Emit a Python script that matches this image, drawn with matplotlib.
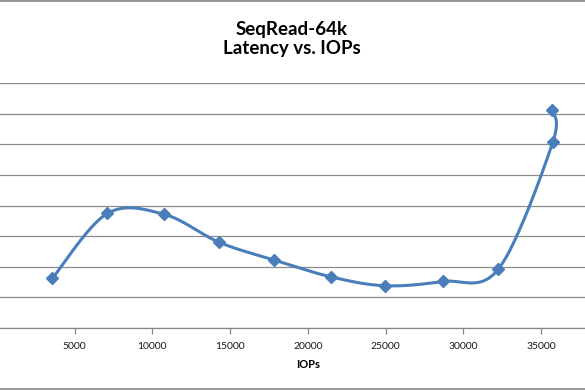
import numpy as np
import matplotlib
matplotlib.use("Agg")
import matplotlib.pyplot as plt
from matplotlib.lines import Line2D

# Data
iops = [3560, 7100, 10770, 14290, 17825, 21490, 24970, 28680, 32260, 35760, 35700]
latency = [1.62, 3.74, 3.71, 2.80, 2.22, 1.67, 1.38, 1.52, 1.92, 6.06, 7.13]
x_ticks = [0, 5000, 10000, 15000, 20000, 25000, 30000, 35000]
x_max = 40000
y_ticks = [0, 1, 2, 3, 4, 5, 6, 7, 8]
title_text = "SeqRead-64k\nLatency vs. IOPs"
x_label = "IOPs"

plt.rcParams['font.family'] = ['Lato', 'DejaVu Sans']

def excel_smooth(xs, ys, n=40):
    P = np.column_stack([xs, ys]).astype(float)
    out = []
    m = len(P)
    for i in range(m - 1):
        p0 = P[i - 1] if i > 0 else P[i]
        p1 = P[i]
        p2 = P[i + 1]
        p3 = P[i + 2] if i + 2 < m else P[i + 1]
        c1 = p1 + (p2 - p0) / 6.0
        c2 = p2 - (p3 - p1) / 6.0
        t = np.linspace(0, 1, n)[:, None]
        seg = ((1 - t) ** 3) * p1 + 3 * ((1 - t) ** 2) * t * c1 + 3 * (1 - t) * t ** 2 * c2 + t ** 3 * p2
        out.append(seg if i == 0 else seg[1:])
    s = np.vstack(out)
    return s[:, 0], s[:, 1]

W, H = 585, 390
fig = plt.figure(figsize=(W / 100, H / 100), dpi=100)
left_px, right_px, top_px, bot_px = -3, 618.6, 83, 328
ax = fig.add_axes([left_px / W, (H - bot_px) / H, (right_px - left_px) / W, (bot_px - top_px) / H])

ax.set_xlim(x_ticks[0], x_max)
ax.set_ylim(y_ticks[0], y_ticks[-1])
ax.set_xticks(x_ticks)
ax.set_yticks(y_ticks)
ax.tick_params(axis='y', left=False, labelleft=False)
ax.tick_params(axis='x', direction='out', length=4, width=0.9, color='#868686',
               labelsize=7.5, pad=6, labelcolor='#1a1a1a')
ax.grid(axis='y', color='#8c8c8c', linewidth=0.9)
ax.set_axisbelow(True)
for s in ['top', 'right', 'left']:
    ax.spines[s].set_visible(False)
ax.spines['bottom'].set_color('#868686')
ax.spines['bottom'].set_linewidth(0.9)

sx, sy = excel_smooth(iops, latency)
ax.plot(sx, sy, color='#4A7EBB', linewidth=2.2, solid_capstyle='round', zorder=3)
ax.plot(iops, latency, linestyle='none', marker='D', markersize=6, color='#4A7EBB', zorder=4)

ax.set_xlabel(x_label, fontsize=8, fontweight='bold', labelpad=6)

fig.text(292 / W, 1 - 39 / H, title_text, ha='center', va='center', fontsize=13.5,
         fontweight='bold', linespacing=1.2)

# chart-area border lines (top and bottom visible in crop)
fig.add_artist(Line2D([0, 1], [1 - 0.5 / H, 1 - 0.5 / H], transform=fig.transFigure, color='#868686', linewidth=1.2))
fig.add_artist(Line2D([0, 1], [1 - 388.5 / H, 1 - 388.5 / H], transform=fig.transFigure, color='#868686', linewidth=1.2))

fig.savefig('out.png', dpi=100)
